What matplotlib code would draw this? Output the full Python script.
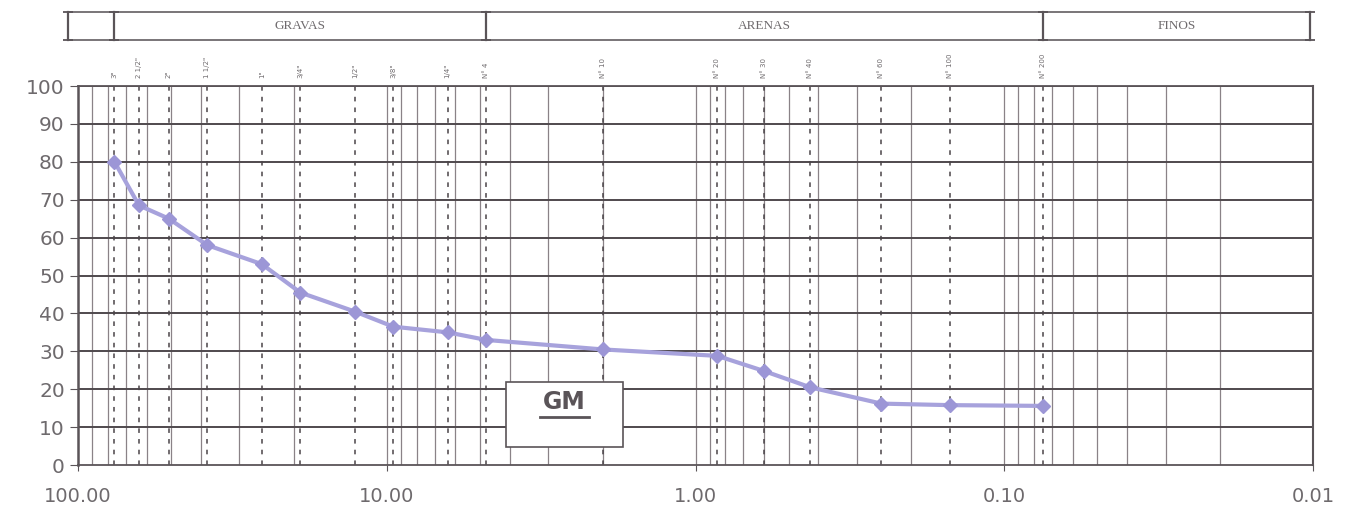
import matplotlib.pyplot as plt
from matplotlib.patches import Rectangle
from matplotlib.ticker import FixedLocator, NullLocator
import numpy as np

# sieve openings (mm) and labels
sieve_labels = ['3"', '2 1/2"', '2"', '1 1/2"', '1"', '3/4"', '1/2"', '3/8"', '1/4"',
                'N° 4', 'N° 10', 'N° 20', 'N° 30', 'N° 40', 'N° 60', 'N° 100', 'N° 200']
sieve_mm = [76.2, 63.5, 50.8, 38.1, 25.4, 19.05, 12.7, 9.525, 6.35,
            4.76, 2.0, 0.85, 0.6, 0.425, 0.25, 0.15, 0.075]
# percent passing
passing = [80, 68.5, 65, 58, 53, 45.5, 40.5, 36.5, 35, 33, 30.5, 28.8, 24.8, 20.5, 16.2, 15.8, 15.6]

x_ticks = [100, 10, 1, 0.1, 0.01]
x_tick_labels = ['100.00', '10.00', '1.00', '0.10', '0.01']
y_ticks = list(range(0, 101, 10))

# soil fractions for the top band (boundaries in mm)
zones = ['', 'GRAVAS', 'ARENAS', 'FINOS']
zone_edges = [108, 76.2, 4.76, 0.075, 0.0102]

grid_col = '#8a8287'
text_col = '#6e6a6d'

fig = plt.figure(figsize=(13.48, 5.08), dpi=100)
ax = fig.add_axes([0.0579, 0.0846, 0.9162, 0.7461])

ax.set_xscale('log')
ax.set_xlim(100, 0.01)
ax.set_ylim(0, 100)

# log grid: 2..9 in every decade
minor = [m * 10.0 ** e for e in range(-2, 2) for m in range(2, 10)]
for v in minor:
    ax.axvline(v, color=grid_col, lw=0.9, zorder=1)
for v in x_ticks[1:-1]:
    ax.axvline(v, color=grid_col, lw=0.9, zorder=1)
for v in y_ticks[1:]:
    ax.axhline(v, color='#4f494d', lw=1.4, zorder=1)

# sieve lines
for v in sieve_mm:
    ax.axvline(v, color='#4a4448', lw=1.1, ls=(0, (3, 4)), zorder=2)

ax.plot(sieve_mm, passing, color='#a7a2dc', lw=3, marker='D', markersize=7,
        markerfacecolor='#9c96d6', markeredgecolor='#9c96d6', zorder=4)

ax.xaxis.set_major_locator(FixedLocator(x_ticks))
ax.xaxis.set_minor_locator(NullLocator())
ax.set_xticklabels(x_tick_labels)
ax.set_yticks(y_ticks)
ax.tick_params(axis='x', labelsize=14, colors=text_col, length=4, pad=12)
ax.tick_params(axis='y', labelsize=14.5, colors=text_col, length=6)
ax.tick_params(axis='both', color='#5a5458')

for s in ['top', 'bottom', 'left', 'right']:
    ax.spines[s].set_color('#5a5458')
ax.spines['left'].set_linewidth(1.8)
ax.spines['bottom'].set_linewidth(1.3)
ax.spines['top'].set_linewidth(1.3)
ax.spines['right'].set_linewidth(1.5)

# sieve labels above the plot
for v, lab in zip(sieve_mm, sieve_labels):
    ax.text(v, 1.02, lab, transform=ax.get_xaxis_transform(), rotation=90,
            fontsize=5, color='#6e6a6d', ha='center', va='bottom')

# top band with soil fractions
tr = ax.get_xaxis_transform()
y0, y1 = 1.121, 1.195
for i, name in enumerate(zones):
    a, b = zone_edges[i], zone_edges[i + 1]
    ax.plot([a, b], [y0, y0], transform=tr, color='#6e6a6d', lw=1.3, clip_on=False)
    ax.plot([a, b], [y1, y1], transform=tr, color='#6e6a6d', lw=1.3, clip_on=False)
    if name:
        xm = np.sqrt(a * b)
        ax.text(xm, (y0 + y1) / 2, name, transform=tr, ha='center', va='center',
                fontsize=9.5, family='Liberation Serif', color='#6e6a6d')
for v in zone_edges:
    ax.plot([v, v], [y0, y1], transform=tr, color='#5a5458', lw=1.6, clip_on=False,
            marker='_', markersize=7, markeredgewidth=1.3)

# soil classification box
ax.add_patch(Rectangle((0.3465, 0.048), 0.095, 0.17, transform=ax.transAxes,
                       facecolor='white', edgecolor='#5a5458', lw=1.2, zorder=5))
ax.text(0.394, 0.165, 'GM', transform=ax.transAxes, ha='center', va='center',
        fontsize=17, fontweight='bold', color='#5a5458', zorder=6)
ax.plot([0.374, 0.414], [0.128, 0.128], transform=ax.transAxes, color='#5a5458',
        lw=2, zorder=6)

fig.savefig('out.png', dpi=100)
